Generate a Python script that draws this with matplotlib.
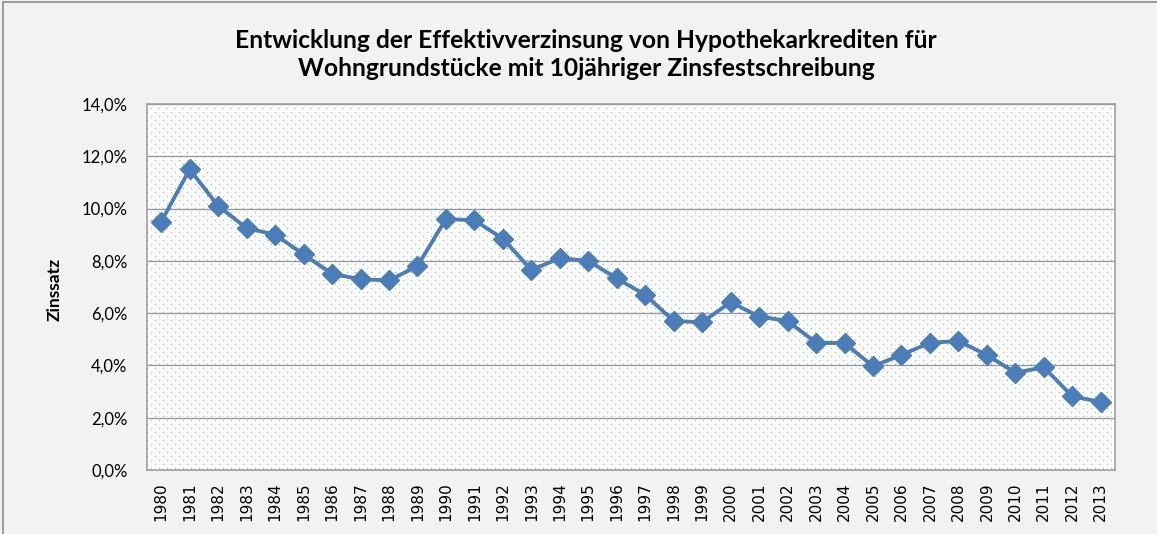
import numpy as np
import matplotlib
matplotlib.use("Agg")
import matplotlib.pyplot as plt
from matplotlib.patches import Rectangle
from matplotlib.ticker import FuncFormatter

# Data
years = [str(y) for y in range(1980, 2014)]
rates = [9.5, 11.5, 10.1, 9.25, 9.0, 8.25, 7.5, 7.3, 7.25, 7.8,
         9.6, 9.55, 8.85, 7.65, 8.1, 8.0, 7.33, 6.7, 5.7, 5.65,
         6.42, 5.87, 5.7, 4.87, 4.85, 3.97, 4.4, 4.87, 4.93, 4.4,
         3.72, 3.93, 2.82, 2.6]
yticks = [0, 2, 4, 6, 8, 10, 12, 14]

title1 = "Entwicklung der Effektivverzinsung von Hypothekarkrediten für"
title2 = "Wohngrundstücke mit 10jähriger Zinsfestschreibung"

W, H = 1157, 534
fig = plt.figure(figsize=(W / 100, H / 100), dpi=100)
fig.patch.set_facecolor("#f2f2f2")

# outer chart frame (only top/left visible in the reference)
fig.patches.append(Rectangle((3 / W, -0.1), 1.2, 1.1 - 2 / H,
                             transform=fig.transFigure, fill=False,
                             edgecolor="#8c8c8c", linewidth=1.2))

ax = fig.add_axes([147 / W, 1 - 470 / H, (1115 - 147) / W, (470 - 104) / H])

# dotted pattern fill of the plot area
pw, ph = 968, 366
pat = np.ones((ph, pw, 3))
dot = np.array([0.52, 0.68, 0.92])
pat[0::8, 0::8] = dot
pat[4::8, 4::8] = dot
ax.imshow(pat, extent=[0, 1, 0, 1], transform=ax.transAxes,
          aspect="auto", interpolation="nearest", zorder=0)

x = np.arange(len(years))
ax.plot(x, rates, color="#4a7ebb", linewidth=2.8, marker="D",
        markersize=10, zorder=3)

ax.set_xlim(-0.5, len(years) - 0.5)
ax.set_ylim(0, 14)
ax.set_yticks(yticks)
ax.yaxis.set_major_formatter(FuncFormatter(lambda v, p: f"{v:.1f}%".replace(".", ",")))
ax.set_xticks(x)
ax.set_xticklabels(years, rotation=90, fontsize=11, family="DejaVu Sans")
for lab in ax.get_yticklabels():
    lab.set_family("Lato")
    lab.set_fontsize(12)
ax.tick_params(length=0)
ax.tick_params(axis="y", pad=14)
ax.tick_params(axis="x", pad=9)
ax.grid(axis="y", color="#9a9a9a", linewidth=1.0, zorder=1)
ax.set_axisbelow(True)
for s in ax.spines.values():
    s.set_color("#a0a0a0")
    s.set_linewidth(1.2)


def fit_text(t, width_px):
    # scale font size so the text spans the width seen in the reference
    r = fig.canvas.get_renderer()
    w = t.get_window_extent(r).width
    t.set_fontsize(t.get_fontsize() * width_px / w)


ylab = fig.text(55 / W, 1 - 289 / H, "Zinssatz", rotation=90, ha="center",
                va="center", fontsize=11, fontweight="bold", family="Lato")
t1 = fig.text(586 / W, 1 - 40 / H, title1, ha="center", va="center",
              fontsize=16, fontweight="bold", family="Lato")
t2 = fig.text(586 / W, 1 - 68 / H, title2, ha="center", va="center",
              fontsize=16, fontweight="bold", family="Lato")
fit_text(t1, 705)
t2.set_fontsize(t1.get_fontsize())
r = fig.canvas.get_renderer()
hl = ylab.get_window_extent(r).height
ylab.set_fontsize(ylab.get_fontsize() * 63 / hl)

fig.savefig("out.png", dpi=100, facecolor=fig.get_facecolor())
